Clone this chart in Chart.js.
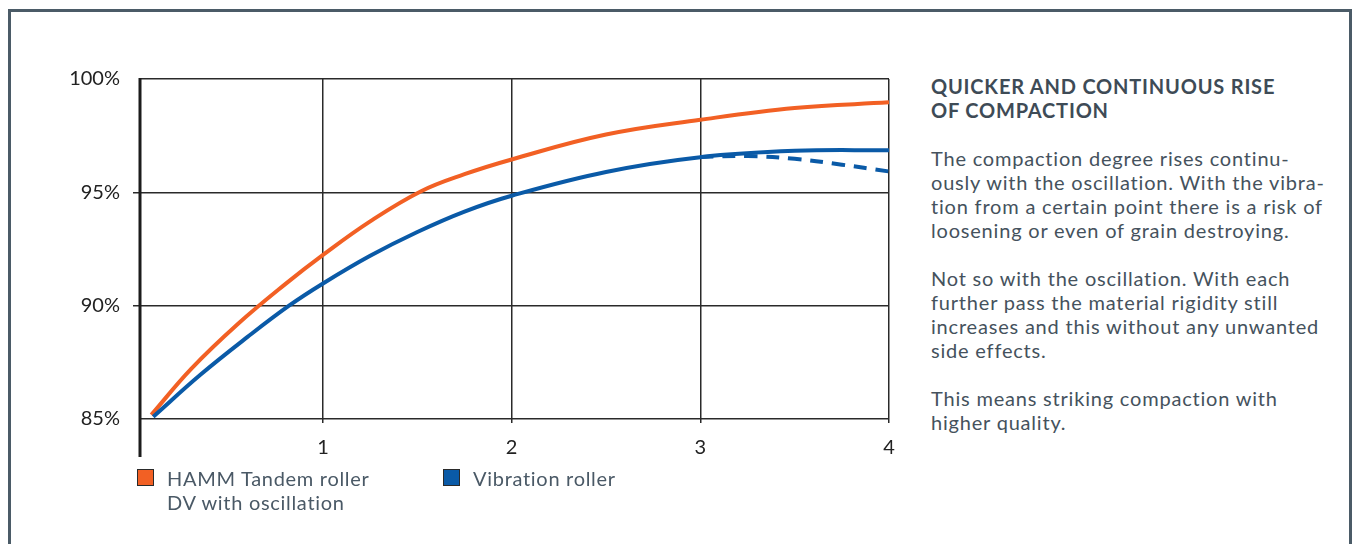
<!DOCTYPE html>
<html>
<head>
<meta charset="utf-8">
<script src="https://cdn.jsdelivr.net/npm/chart.js@4.4.1/dist/chart.umd.min.js"></script>
<style>
  html, body { margin: 0; padding: 0; background: #fff; }
  body { width: 1356px; height: 544px; overflow: hidden; position: relative; font-family: Lato, "Open Sans", sans-serif; }
  .frame { position: absolute; left: 8px; top: 9px; width: 1338px; height: 600px; border: 3px solid #4b5b67; border-bottom: none; }
  .plot { position: absolute; left: 0; top: 0; width: 909px; height: 470px; }
  .legend { position: absolute; top: 466px; font-size: 20px; line-height: 24px; color: #4a5966; font-weight: 400; letter-spacing: 0.7px; }
  .legend .box { position: absolute; left: 0; top: 3px; width: 15px; height: 15px; border: 1.5px solid #2a2a2a; }
  .legend .txt { margin-left: 30px; }
  .side { position: absolute; left: 931px; top: 74px; width: 420px; color: #45525d; line-height: 24px; font-size: 20px; }
  .side h2 { margin: 0 0 24px 0; font-size: 20px; font-weight: 700; color: #3e4b56; letter-spacing: 0.8px; }
  .side p { margin: 0 0 24px 0; font-weight: 400; letter-spacing: 0.8px; }
</style>
</head>
<body>
<div class="frame"></div>
<div class="plot"><canvas id="chart"></canvas></div>

<div class="legend" style="left:137px;">
  <div class="box" id="box1"></div>
  <div class="txt" id="lab1"></div>
</div>
<div class="legend" style="left:443px;">
  <div class="box" id="box2"></div>
  <div class="txt" id="lab2"></div>
</div>

<div class="side">
  <h2>QUICKER AND CONTINUOUS RISE<br>OF COMPACTION</h2>
  <p>The compaction degree rises continu-<br>ously with the oscillation. With the vibra-<br>tion from a certain point there is a risk of<br>loosening or even of grain destroying.</p>
  <p>Not so with the oscillation. With each<br>further pass the material rigidity still<br>increases and this without any unwanted<br>side effects.</p>
  <p>This means striking compaction with<br>higher quality.</p>
</div>

<script>
// passes (x) and compaction degree in % (y)
const hammX = [0.09, 0.3, 0.55, 0.8, 1.0, 1.25, 1.52, 1.75, 2.0, 2.5, 3.0, 3.5, 4.0];
const hammY = [85.18, 87.2, 89.2, 90.95, 92.24, 93.72, 95.05, 95.8, 96.45, 97.55, 98.2, 98.72, 98.97];

const vibX = [0.1, 0.35, 0.6, 0.82, 1.0, 1.25, 1.5, 1.75, 2.0, 2.5, 3.0, 3.5, 4.0];
const vibY = [85.1, 86.95, 88.62, 90.0, 90.98, 92.2, 93.25, 94.15, 94.85, 95.9, 96.55, 96.83, 96.86];

// vibration roller, loosening branch (dashed)
const looseX = [3.0, 3.25, 3.5, 3.75, 4.0];
const looseY = [96.56, 96.6, 96.48, 96.22, 95.92];

const xTicks = [1, 2, 3, 4];
const yTicks = [85, 90, 95, 100];

const labels = ['HAMM Tandem roller<br>DV with oscillation', 'Vibration roller'];
const colors = ['#f26024', '#0a5aa7'];

document.getElementById('lab1').innerHTML = labels[0];
document.getElementById('lab2').innerHTML = labels[1];
document.getElementById('box1').style.background = colors[0];
document.getElementById('box2').style.background = colors[1];

const toPoints = (xs, ys) => xs.map((x, i) => ({ x: x, y: ys[i] }));

const gridColor = '#2a2a2a';

// left axis runs down past the bottom line
const axisExtension = {
  id: 'axisExtension',
  afterDraw(chart) {
    const ctx = chart.ctx;
    const area = chart.chartArea;
    ctx.save();
    ctx.strokeStyle = '#1c1c1c';
    ctx.lineWidth = 3;
    ctx.beginPath();
    ctx.moveTo(area.left, area.top - 1);
    ctx.lineTo(area.left, 457);
    ctx.stroke();
    ctx.restore();
  }
};

const lineStyle = { borderWidth: 4, pointRadius: 0, tension: 0.4 };

new Chart(document.getElementById('chart'), {
  type: 'line',
  data: {
    datasets: [
      Object.assign({ label: 'loose', data: toPoints(looseX, looseY), borderColor: colors[1], borderDash: [13, 9] }, lineStyle),
      Object.assign({ label: 'Vibration roller', data: toPoints(vibX, vibY), borderColor: colors[1] }, lineStyle),
      Object.assign({ label: 'HAMM Tandem roller DV with oscillation', data: toPoints(hammX, hammY), borderColor: colors[0] }, lineStyle)
    ]
  },
  options: {
    responsive: true,
    maintainAspectRatio: false,
    animation: false,
    layout: { padding: { top: 79, right: 20, bottom: 0, left: 0 } },
    plugins: { legend: { display: false }, tooltip: { enabled: false } },
    scales: {
      x: {
        type: 'linear',
        min: 0.03,
        max: 4,
        afterBuildTicks: (scale) => { scale.ticks = xTicks.map(v => ({ value: v })); },
        afterFit: (scale) => { scale.height = 51; },
        border: { display: false },
        grid: { color: gridColor, lineWidth: 1.5, tickLength: 4, tickColor: gridColor },
        ticks: { color: '#222', font: { family: 'Lato', size: 20 }, padding: 13, maxRotation: 0 }
      },
      y: {
        min: 85,
        max: 100,
        afterBuildTicks: (scale) => { scale.ticks = yTicks.map(v => ({ value: v })); },
        afterFit: (scale) => { scale.width = 140; },
        border: { display: false },
        grid: {
          color: gridColor,
          lineWidth: 1.5,
          tickLength: 7,
          tickColor: (c) => (c.tick && (c.tick.value === 85 || c.tick.value === 100)) ? 'rgba(0,0,0,0)' : gridColor
        },
        ticks: { color: '#222', font: { family: 'Lato', size: 20 }, padding: 13, callback: (v) => v + '%' }
      }
    }
  },
  plugins: [axisExtension]
});
</script>
</body>
</html>
